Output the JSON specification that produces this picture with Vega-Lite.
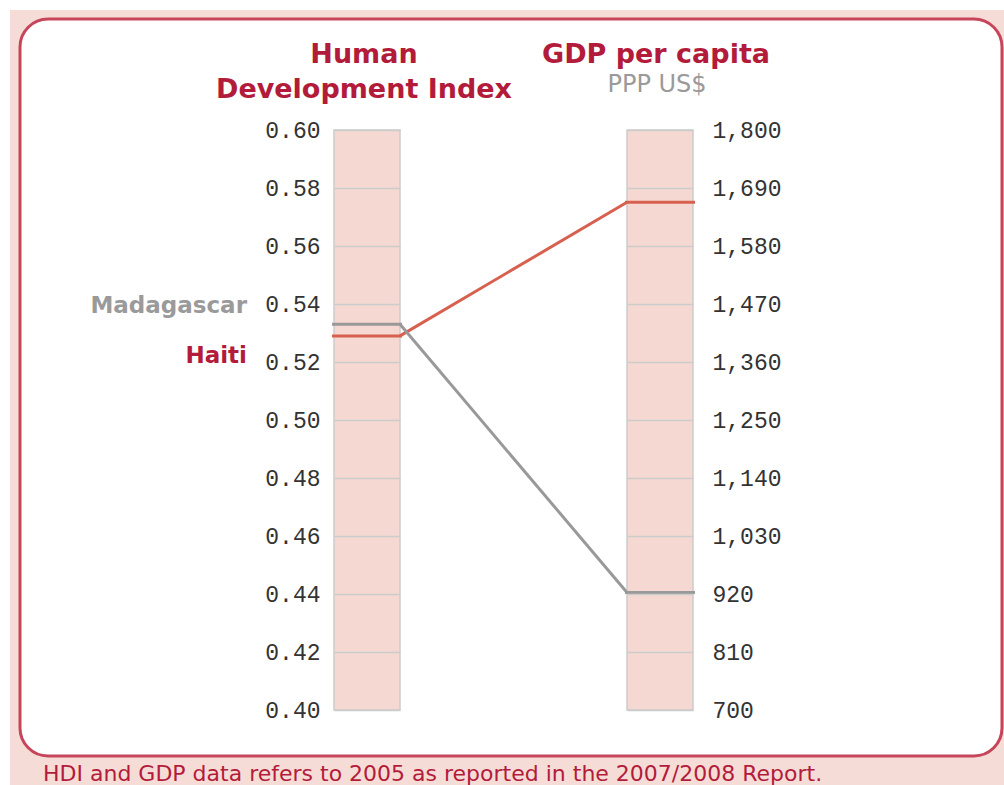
{
  "$schema": "https://vega.github.io/schema/vega-lite/v6.json",
  "width": 359,
  "height": 580,
  "autosize": {"type": "none"},
  "padding": {"left": 334, "top": 130, "right": 311, "bottom": 75},
  "background": "white",
  "config": {"view": {"stroke": null}, "axisX": {"disable": true}},
  "datasets": {
    "countries": [
      {"country": "Haiti", "hdi": 0.529, "gdp": 1663},
      {"country": "Madagascar", "hdi": 0.533, "gdp": 923}
    ]
  },
  "data": {"name": "countries"},
  "transform": [{"calculate": "0.4 + (datum.gdp - 700) / 5500", "as": "gdp_on_hdi_scale"}],
  "layer": [
    {
      "data": {"values": [{}]},
      "mark": {"type": "rect", "fill": "#f6dcd6", "clip": false},
      "encoding": {
        "x": {"datum": -0.21843, "type": "quantitative", "axis": null, "scale": {"domain": [0.887372, 2.112628], "nice": false, "zero": false, "padding": 0}},
        "x2": {"datum": 3.3},
        "y": {"datum": 0.641379, "type": "quantitative", "axis": null, "scale": {"domain": [0.4, 0.6], "nice": false, "zero": false, "padding": 0}},
        "y2": {"datum": 0.33}
      }
    },
    {
      "data": {"values": [{}]},
      "mark": {"type": "rect", "fill": "white", "stroke": "#c6455a", "strokeWidth": 3, "cornerRadius": 28, "clip": false},
      "encoding": {
        "x": {"datum": -0.1843, "type": "quantitative", "axis": null, "scale": {"domain": [0.887372, 2.112628], "nice": false, "zero": false, "padding": 0}},
        "x2": {"datum": 3.167235},
        "y": {"datum": 0.638276, "type": "quantitative", "axis": null, "scale": {"domain": [0.4, 0.6], "nice": false, "zero": false, "padding": 0}},
        "y2": {"datum": 0.384138}
      }
    },
    {
      "data": {"values": [{"measure": "Human Development Index"}]},
      "mark": {"type": "bar", "width": 66, "fill": "#f5d8d1", "stroke": "#cccccc", "strokeWidth": 1.5},
      "encoding": {
        "x": {"datum": 1, "type": "quantitative", "axis": null, "scale": {"domain": [0.887372, 2.112628], "nice": false, "zero": false, "padding": 0}},
        "y": {"datum": 0.4, "type": "quantitative", "axis": null, "scale": {"domain": [0.4, 0.6], "nice": false, "zero": false, "padding": 0}},
        "y2": {"datum": 0.6}
      }
    },
    {
      "data": {"values": [{"measure": "GDP per capita"}]},
      "mark": {"type": "bar", "width": 66, "fill": "#f5d8d1", "stroke": "#cccccc", "strokeWidth": 1.5},
      "encoding": {
        "x": {"datum": 2, "type": "quantitative", "axis": null, "scale": {"domain": [0.887372, 2.112628], "nice": false, "zero": false, "padding": 0}},
        "y": {"datum": 0.4, "type": "quantitative", "axis": null, "scale": {"domain": [0.4, 0.6], "nice": false, "zero": false, "padding": 0}},
        "y2": {"datum": 0.6}
      }
    },
    {
      "mark": {"type": "tick", "orient": "horizontal", "size": 70, "thickness": 3, "opacity": 1},
      "encoding": {
        "x": {"datum": 1, "type": "quantitative", "axis": null, "scale": {"domain": [0.887372, 2.112628], "nice": false, "zero": false, "padding": 0}},
        "y": {"field": "hdi", "type": "quantitative", "axis": {
          "orient": "left", "values": [0.4, 0.42, 0.44, 0.46, 0.48, 0.5, 0.52, 0.54, 0.56, 0.58, 0.6],
          "format": ".2f", "domain": false, "ticks": true, "tickSize": -66, "tickColor": "#cccccc", "tickWidth": 1.5,
          "labelPadding": 80, "labelFont": "Liberation Mono", "labelFontSize": 23, "labelColor": "#333333",
          "grid": false, "title": null, "zindex": 1, "labelBaseline": "middle"
        }, "scale": {"domain": [0.4, 0.6], "nice": false, "zero": false, "padding": 0}},
        "color": {"field": "country", "type": "nominal", "legend": null, "scale": {"domain": ["Haiti", "Madagascar"], "range": ["#d8604f", "#999999"]}}
      }
    },
    {
      "mark": {"type": "tick", "orient": "horizontal", "size": 70, "thickness": 3, "opacity": 1},
      "encoding": {
        "x": {"datum": 2, "type": "quantitative", "axis": null, "scale": {"domain": [0.887372, 2.112628], "nice": false, "zero": false, "padding": 0}},
        "y": {"field": "gdp", "type": "quantitative", "axis": {
          "orient": "right", "values": [700, 810, 920, 1030, 1140, 1250, 1360, 1470, 1580, 1690, 1800],
          "format": ",d", "domain": false, "ticks": true, "tickSize": -66, "tickColor": "#cccccc", "tickWidth": 1.5,
          "labelPadding": 85, "labelFont": "Liberation Mono", "labelFontSize": 23, "labelColor": "#333333",
          "grid": false, "title": null, "zindex": 1, "labelBaseline": "middle"
        }, "scale": {"domain": [700, 1800], "nice": false, "zero": false, "padding": 0}},
        "color": {"field": "country", "type": "nominal", "legend": null}
      }
    },
    {
      "mark": {"type": "rule", "strokeWidth": 3, "xOffset": 33, "x2Offset": -33},
      "encoding": {
        "x": {"datum": 1, "type": "quantitative", "axis": null, "scale": {"domain": [0.887372, 2.112628], "nice": false, "zero": false, "padding": 0}},
        "x2": {"datum": 2},
        "y": {"field": "hdi", "type": "quantitative", "axis": null, "scale": {"domain": [0.4, 0.6], "nice": false, "zero": false, "padding": 0}},
        "y2": {"field": "gdp_on_hdi_scale"},
        "color": {"field": "country", "type": "nominal", "legend": null}
      }
    },
    {
      "transform": [{"filter": "datum.country === 'Madagascar'"}],
      "mark": {"type": "text", "align": "right", "baseline": "alphabetic", "dx": -120, "dy": -11, "font": "DejaVu Sans", "fontWeight": "bold", "fontSize": 23, "fill": "#9a9a9a"},
      "encoding": {
        "x": {"datum": 1, "type": "quantitative", "axis": null, "scale": {"domain": [0.887372, 2.112628], "nice": false, "zero": false, "padding": 0}},
        "y": {"field": "hdi", "type": "quantitative", "axis": null, "scale": {"domain": [0.4, 0.6], "nice": false, "zero": false, "padding": 0}},
        "text": {"field": "country"}
      }
    },
    {
      "transform": [{"filter": "datum.country === 'Haiti'"}],
      "mark": {"type": "text", "align": "right", "baseline": "alphabetic", "dx": -120, "dy": 27, "font": "DejaVu Sans", "fontWeight": "bold", "fontSize": 23, "fill": "#b31b3b"},
      "encoding": {
        "x": {"datum": 1, "type": "quantitative", "axis": null, "scale": {"domain": [0.887372, 2.112628], "nice": false, "zero": false, "padding": 0}},
        "y": {"field": "hdi", "type": "quantitative", "axis": null, "scale": {"domain": [0.4, 0.6], "nice": false, "zero": false, "padding": 0}},
        "text": {"field": "country"}
      }
    },
    {
      "data": {"values": [{"label": ["Human", "Development Index"]}]},
      "mark": {"type": "text", "align": "center", "baseline": "alphabetic", "dx": -3, "dy": -67, "lineHeight": 35, "font": "DejaVu Sans", "fontWeight": "bold", "fontSize": 27, "fill": "#b31b3b"},
      "encoding": {
        "x": {"datum": 1, "type": "quantitative", "axis": null, "scale": {"domain": [0.887372, 2.112628], "nice": false, "zero": false, "padding": 0}},
        "y": {"datum": 0.6, "type": "quantitative", "axis": null, "scale": {"domain": [0.4, 0.6], "nice": false, "zero": false, "padding": 0}},
        "text": {"field": "label"}
      }
    },
    {
      "data": {"values": [{"label": "GDP per capita"}]},
      "mark": {"type": "text", "align": "center", "baseline": "alphabetic", "dx": -4, "dy": -67, "font": "DejaVu Sans", "fontWeight": "bold", "fontSize": 27, "fill": "#b31b3b"},
      "encoding": {
        "x": {"datum": 2, "type": "quantitative", "axis": null, "scale": {"domain": [0.887372, 2.112628], "nice": false, "zero": false, "padding": 0}},
        "y": {"datum": 0.6, "type": "quantitative", "axis": null, "scale": {"domain": [0.4, 0.6], "nice": false, "zero": false, "padding": 0}},
        "text": {"field": "label"}
      }
    },
    {
      "data": {"values": [{"label": "PPP US$"}]},
      "mark": {"type": "text", "align": "center", "baseline": "alphabetic", "dx": -3, "dy": -38, "font": "DejaVu Sans", "fontSize": 24, "fill": "#9a9a9a"},
      "encoding": {
        "x": {"datum": 2, "type": "quantitative", "axis": null, "scale": {"domain": [0.887372, 2.112628], "nice": false, "zero": false, "padding": 0}},
        "y": {"datum": 0.6, "type": "quantitative", "axis": null, "scale": {"domain": [0.4, 0.6], "nice": false, "zero": false, "padding": 0}},
        "text": {"field": "label"}
      }
    },
    {
      "data": {"values": [{"label": "HDI and GDP data refers to 2005 as reported in the 2007/2008 Report."}]},
      "mark": {"type": "text", "align": "left", "baseline": "alphabetic", "dx": -324, "dy": 71, "font": "DejaVu Sans", "fontSize": 22, "fill": "#b31b3b"},
      "encoding": {
        "x": {"datum": 1, "type": "quantitative", "axis": null, "scale": {"domain": [0.887372, 2.112628], "nice": false, "zero": false, "padding": 0}},
        "y": {"datum": 0.4, "type": "quantitative", "axis": null, "scale": {"domain": [0.4, 0.6], "nice": false, "zero": false, "padding": 0}},
        "text": {"field": "label"}
      }
    }
  ],
  "resolve": {"scale": {"y": "independent"}}
}
